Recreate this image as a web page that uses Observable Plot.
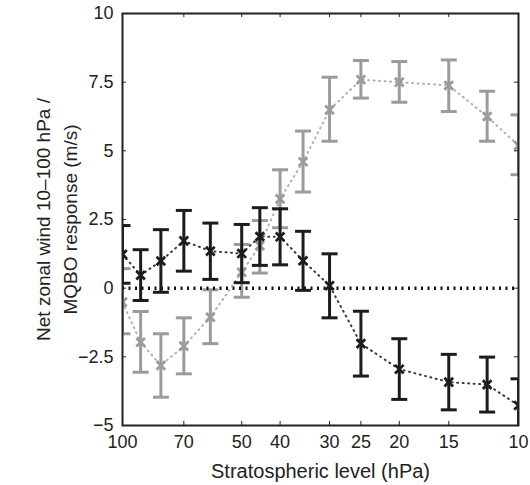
<!DOCTYPE html>
<html>
<head>
<meta charset="utf-8">
<script src="https://cdn.jsdelivr.net/npm/d3@7"></script>
<script src="https://cdn.jsdelivr.net/npm/@observablehq/plot@0.6"></script>
<style>
  html, body { margin: 0; padding: 0; background: #fff; }
  #chart svg { display: block; }
</style>
</head>
<body>
<div id="chart"></div>
<script>
// Pressure levels (hPa)
const levels = [100, 90, 80, 70, 60, 50, 45, 40, 35, 30, 25, 20, 15, 12, 10];

// Black series (mean and error-bar ends)
const blackMean = [1.23, 0.47, 0.99, 1.72, 1.35, 1.26, 1.88, 1.87, 1.0, 0.09, -2.02, -2.95, -3.42, -3.51, -4.27];
const blackLow  = [0.18, -0.45, -0.15, 0.62, 0.32, 0.2, 0.83, 0.85, -0.08, -1.08, -3.2, -4.05, -4.43, -4.51, -5.3];
const blackHigh = [2.28, 1.4, 2.13, 2.83, 2.37, 2.32, 2.93, 2.89, 2.07, 1.25, -0.84, -1.84, -2.41, -2.51, -3.3];

// Grey series
const greyMean = [-0.51, -1.97, -2.81, -2.11, -1.06, 0.58, 1.55, 3.25, 4.6, 6.49, 7.59, 7.5, 7.38, 6.25, 5.19];
const greyLow  = [-1.66, -3.06, -3.97, -3.12, -2.02, -0.33, 0.55, 2.2, 3.5, 5.35, 6.92, 6.77, 6.43, 5.35, 4.13];
const greyHigh = [0.71, -0.85, -1.66, -1.08, -0.06, 1.59, 2.46, 4.31, 5.72, 7.68, 8.29, 8.25, 8.31, 7.17, 6.31];

// Ticks and labels
const xTicks = [100, 70, 50, 40, 30, 25, 20, 15, 10];
const yTicks = [10, 7.5, 5, 2.5, 0, -2.5, -5];
const xTitle = "Stratospheric level (hPa)";
const yTitle = "Net zonal wind 10\u2013100 hPa /\nMQBO response (m/s)";

const black = levels.map((p, i) => ({p, mean: blackMean[i], low: blackLow[i], high: blackHigh[i]}));
const grey = levels.map((p, i) => ({p, mean: greyMean[i], low: greyLow[i], high: greyHigh[i]}));

const BLACK = "#1c1c1c";
const GREY = "#9b9b9b";

const capSymbol = {
  draw(ctx, size) {
    const w = Math.sqrt(size / Math.PI);
    ctx.moveTo(-w, 0);
    ctx.lineTo(w, 0);
  }
};

const fmt = d => d < 0 ? "\u2212" + Math.abs(d) : String(d);

function series(data, color, lineColor) {
  return [
    Plot.line(data, {x: "p", y: "mean", stroke: lineColor, strokeWidth: 2, strokeDasharray: "1,4.5", clip: true}),
    Plot.ruleX(data, {x: "p", y1: "low", y2: "high", stroke: color, strokeWidth: 3, clip: true}),
    Plot.dot(data, {x: "p", y: "low", symbol: capSymbol, r: 8, stroke: color, strokeWidth: 3, fill: "none", clip: true}),
    Plot.dot(data, {x: "p", y: "high", symbol: capSymbol, r: 8, stroke: color, strokeWidth: 3, fill: "none", clip: true}),
    Plot.dot(data, {x: "p", y: "mean", symbol: "times", r: 4, stroke: color, strokeWidth: 2.8, clip: true})
  ];
}

const chart = Plot.plot({
  width: 530,
  height: 485,
  marginLeft: 122,
  marginRight: 12,
  marginTop: 13,
  marginBottom: 60,
  style: {fontFamily: "'Liberation Sans', Arial, Helvetica, sans-serif", fontSize: "18px", color: "#222", background: "#fff"},
  x: {type: "log", domain: [100, 10], axis: null, label: null},
  y: {domain: [-5, 10], label: null},
  marks: [
    ...series(grey, GREY, "#b0b0b0"),
    Plot.ruleY([0], {stroke: "#111", strokeWidth: 3.5, strokeDasharray: "2,4.5"}),
    ...series(black, BLACK, "#3a3a3a"),
    // inward ticks
    Plot.ruleX(xTicks, {x: d => d, y1: -5, y2: -4.85, stroke: "#222", strokeWidth: 1}),
    Plot.ruleX(xTicks, {x: d => d, y1: 10, y2: 9.85, stroke: "#222", strokeWidth: 1}),
    Plot.ruleY(yTicks, {y: d => d, x1: 100, x2: 97.7, stroke: "#222", strokeWidth: 1}),
    Plot.ruleY(yTicks, {y: d => d, x1: 10, x2: 10.24, stroke: "#222", strokeWidth: 1}),
    Plot.frame({stroke: "#222", strokeWidth: 2}),
    // x tick labels
    Plot.text(xTicks, {x: d => d, text: d => String(d), frameAnchor: "bottom", dy: 17, lineAnchor: "middle", fontSize: 18, fill: "#222"}),
    Plot.axisY(yTicks, {tickSize: 0, tickPadding: 9, tickFormat: fmt, label: null, fontSize: 18}),
    Plot.text([xTitle], {text: d => d, frameAnchor: "bottom", dy: 46, lineAnchor: "middle", fontSize: 20, fill: "#222"}),
    Plot.text([yTitle], {text: d => d, frameAnchor: "left", dx: -68, rotate: -90, textAnchor: "middle", lineAnchor: "middle", lineHeight: 1.42, fontSize: 19, fill: "#222"})
  ]
});

document.getElementById("chart").appendChild(chart);
</script>
</body>
</html>
